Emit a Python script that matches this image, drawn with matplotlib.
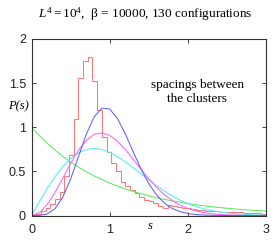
import numpy as np
import matplotlib.pyplot as plt

plt.rcParams['mathtext.fontset'] = 'custom'
plt.rcParams['mathtext.rm'] = 'Liberation Serif'
plt.rcParams['mathtext.it'] = 'Liberation Serif:italic'

# histogram of cluster spacings (bin width 0.06 on [0, 3])
hist_edges = np.round(np.arange(0, 3.0001, 0.06), 2)
hist_heights = [0.005, 0.02, 0.05, 0.08, 0.13, 0.19, 0.27, 0.45, 0.69,
                1.09, 1.555, 1.75, 1.79, 1.52, 1.20, 0.89,
                0.72, 0.59, 0.50, 0.38, 0.33, 0.29, 0.25, 0.21, 0.18,
                0.16, 0.14, 0.11, 0.09,
                0.12, 0.11, 0.10, 0.09, 0.08, 0.07, 0.065, 0.06, 0.055,
                0.05, 0.05, 0.045, 0.04, 0.04, 0.035, 0.035, 0.03, 0.03,
                0.025, 0.025, 0.02]

# reference curves, read at s = 0, 0.1, ..., 3
s_vals = np.round(np.arange(0, 3.0001, 0.1), 1)
poisson = [1.0, 0.905, 0.819, 0.741, 0.670, 0.607, 0.549, 0.497, 0.449, 0.407,
           0.368, 0.333, 0.301, 0.273, 0.247, 0.223, 0.202, 0.183, 0.165, 0.150,
           0.135, 0.122, 0.111, 0.100, 0.091, 0.082, 0.074, 0.067, 0.061, 0.055,
           0.050]
goe = [0.0, 0.156, 0.304, 0.439, 0.554, 0.645, 0.710, 0.748, 0.760, 0.748,
       0.716, 0.668, 0.608, 0.542, 0.472, 0.403, 0.337, 0.276, 0.222, 0.175,
       0.136, 0.103, 0.077, 0.057, 0.041, 0.029, 0.020, 0.014, 0.009, 0.006,
       0.004]
gue = [0.0, 0.032, 0.123, 0.260, 0.423, 0.590, 0.738, 0.851, 0.919, 0.936,
       0.908, 0.841, 0.747, 0.637, 0.524, 0.416, 0.319, 0.236, 0.170, 0.118,
       0.080, 0.052, 0.033, 0.020, 0.012, 0.007, 0.004, 0.002, 0.001, 0.001,
       0.0]
gse = [0.0, 0.001, 0.017, 0.077, 0.207, 0.412, 0.665, 0.919, 1.116, 1.217,
       1.206, 1.098, 0.924, 0.723, 0.528, 0.361, 0.231, 0.140, 0.080, 0.043,
       0.022, 0.011, 0.005, 0.002, 0.001, 0.0, 0.0, 0.0, 0.0, 0.0,
       0.0]

fig = plt.figure(figsize=(2.74, 2.42), dpi=100)
ax = fig.add_axes([0.115, 0.1095, 0.856, 0.7295])

lw = 0.75
ax.stairs(hist_heights, hist_edges, color='#ff7878', lw=lw)
ax.plot(s_vals, poisson, color='#60e860', lw=lw)
ax.plot(s_vals, goe, color='#50f0f0', lw=lw)
ax.plot(s_vals, gue, color='#ff60ff', lw=lw)
ax.plot(s_vals, gse, color='#6060ff', lw=lw)

ax.set_xlim(0, 3)
ax.set_ylim(0, 2)
ax.set_xticks([0, 1, 2, 3])
ax.set_yticks([0, 0.5, 1, 1.5, 2])
ax.set_yticklabels(['0', '0.5', '1', '1.5', '2'])
ax.tick_params(direction='in', top=True, right=True, length=3, width=0.6,
               labelsize=9, colors='#222222')
ax.tick_params(axis='x', pad=6)
ax.tick_params(axis='y', pad=4)
for lab in ax.get_xticklabels() + ax.get_yticklabels():
    lab.set_family('Liberation Sans')
for sp in ax.spines.values():
    sp.set_linewidth(0.8)
    sp.set_color('#333333')

serif = 'Liberation Serif'
fig.text(0.53, 0.942, r'$L^4 = 10^4$,  β = 10000, 130 configurations',
         ha='center', va='center', family=serif, fontsize=9.5)
fig.text(0.067, 0.562, 'P(s)', ha='center', va='center', family=serif,
         style='italic', fontsize=9)
fig.text(0.55, 0.066, 's', ha='center', va='center', family=serif,
         style='italic', fontsize=9)
ax.text(2.12, 1.40, 'spacings between\nthe clusters', ha='center', va='center',
        family=serif, fontsize=9.5, linespacing=1.3)

fig.savefig('out.png', dpi=100)
